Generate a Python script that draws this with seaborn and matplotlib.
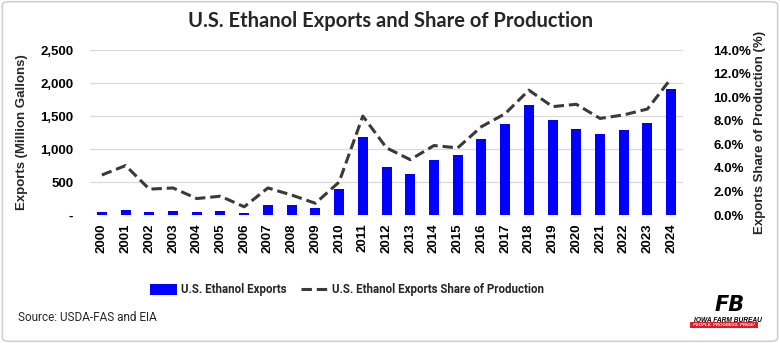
import numpy as np
import pandas as pd
import matplotlib
matplotlib.use("Agg")
import matplotlib.pyplot as plt
import seaborn as sns
from matplotlib.patches import Patch, FancyBboxPatch, Rectangle
from matplotlib.lines import Line2D
from matplotlib.ticker import FuncFormatter, MultipleLocator

years = [str(y) for y in range(2000, 2025)]
exports = [50, 75, 50, 55, 50, 55, 32, 150, 160, 110, 390, 1185, 730, 615, 835,
           910, 1160, 1380, 1670, 1440, 1310, 1225, 1295, 1400, 1910]
share = [3.4, 4.2, 2.2, 2.3, 1.4, 1.6, 0.7, 2.3, 1.7, 1.0, 2.8, 8.4, 5.7, 4.7, 5.9,
         5.7, 7.5, 8.6, 10.6, 9.2, 9.4, 8.2, 8.5, 9.0, 11.6]

df = pd.DataFrame({"Year": years, "Exports": exports, "Share": share})

sns.set_theme(style="white")
plt.rcParams["font.family"] = ["Liberation Sans", "DejaVu Sans"]

fig = plt.figure(figsize=(7.8, 3.43), dpi=100)
ax = fig.add_axes([0.1154, 0.373, 0.7603, 0.481])

bar_color = "#0000FF"
line_color = "#3a3a3a"
dash = (0, (3.4, 1.6))

sns.barplot(data=df, x="Year", y="Exports", ax=ax, color=bar_color,
            width=0.42, saturation=1, edgecolor="none", zorder=2)
ax.set_xlim(-0.5, len(years) - 0.5)
ax.set_ylim(0, 2500)
ax.yaxis.set_major_locator(MultipleLocator(500))
ax.yaxis.set_major_formatter(FuncFormatter(lambda v, p: "-" if v == 0 else f"{int(v):,}"))
ax.grid(axis="y", color="#d9d9d9", linewidth=0.9, zorder=0)
ax.set_axisbelow(True)
for s in ax.spines.values():
    s.set_visible(False)
ax.tick_params(axis="both", length=0, labelsize=9.5, colors="black")
ax.tick_params(axis="y", pad=12)
ax.tick_params(axis="x", pad=6)
for lab in ax.get_xticklabels():
    lab.set_rotation(90)
    lab.set_fontweight("bold")
for lab in ax.get_yticklabels():
    lab.set_fontweight("bold")
ax.set_xlabel("")
ax.set_ylabel("Exports (Million Gallons)", fontsize=9.5, fontweight="bold", labelpad=9)

ax2 = ax.twinx()
sns.pointplot(data=df, x="Year", y="Share", ax=ax2, color=line_color,
              linestyle=dash, marker="", linewidth=2.2, errorbar=None)
ax2.set_ylim(0, 14)
ax2.set_xlim(-0.5, len(years) - 0.5)
ax2.yaxis.set_major_locator(MultipleLocator(2))
ax2.yaxis.set_major_formatter(FuncFormatter(lambda v, p: f"{v:.1f}%"))
for s in ax2.spines.values():
    s.set_visible(False)
ax2.tick_params(axis="y", length=0, labelsize=9.5, colors="black", pad=22)
for lab in ax2.get_yticklabels():
    lab.set_fontweight("bold")
ax2.set_ylabel("Exports Share of Production (%)", fontsize=9.5, fontweight="bold", labelpad=2)
ax2.grid(False)

narrow = ["Roboto", "DejaVu Sans"]

fig.text(0.5, 0.94, "U.S. Ethanol Exports and Share of Production", ha="center", va="center",
         fontsize=14.5, fontweight="bold", family=["Lato", "DejaVu Sans"])

handles = [Patch(facecolor=bar_color, edgecolor="none"),
           Line2D([0], [0], color=line_color, linestyle=dash, linewidth=2.2)]
labels = ["U.S. Ethanol Exports", "U.S. Ethanol Exports Share of Production"]
fig.legend(handles, labels, loc="center", bbox_to_anchor=(0.445, 0.155), ncol=2, frameon=False,
           prop={"family": narrow, "size": 8.3, "weight": "bold"},
           handlelength=2.4, handleheight=1.0, columnspacing=1.3, handletextpad=0.3)

fig.text(0.023, 0.075, "Source: USDA-FAS and EIA", ha="left", va="center", fontsize=8.5,
         family=narrow)

# logo
fig.text(0.936, 0.112, "FB", ha="center", va="center", fontsize=15, fontweight="heavy",
         style="italic", color="black", family=["DejaVu Sans"])
fig.text(0.977, 0.066, "IOWA FARM BUREAU", ha="right", va="center", fontsize=4.8,
         fontweight="bold", style="italic", color="black")
fig.patches.append(Rectangle((0.885, 0.043), 0.087, 0.017, transform=fig.transFigure,
                             facecolor="#e31b23", edgecolor="none"))
fig.text(0.928, 0.0515, "PEOPLE. PROGRESS. PRIDE!", ha="center", va="center", fontsize=3.2,
         fontweight="bold", style="italic", color="white")

fig.patches.append(FancyBboxPatch((0.003, 0.005), 0.994, 0.99, boxstyle="round,pad=0,rounding_size=0.01",
                                  transform=fig.transFigure, facecolor="none",
                                  edgecolor="#d0d0d0", linewidth=1.2))

fig.savefig("out.png", dpi=100)
